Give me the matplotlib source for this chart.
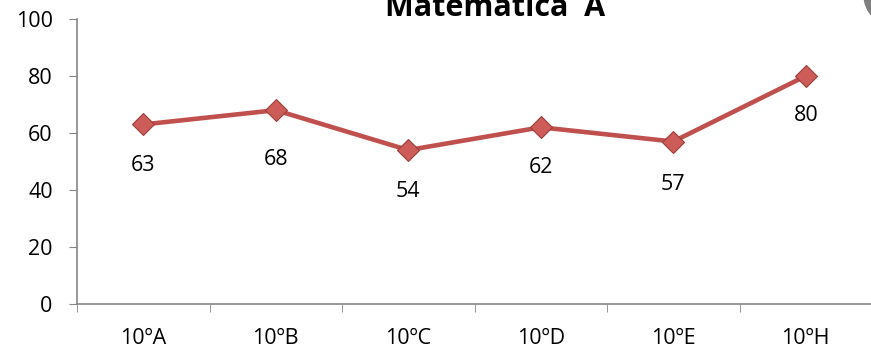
import matplotlib
matplotlib.use("Agg")
import matplotlib.pyplot as plt
from matplotlib.patches import Circle

# Chart data
classes = ["10ºA", "10ºB", "10ºC", "10ºD", "10ºE", "10ºH"]
scores = [63, 68, 54, 62, 57, 80]
y_ticks = [0, 20, 40, 60, 80, 100]

plt.rcParams["font.family"] = ["Open Sans", "DejaVu Sans"]

fig = plt.figure(figsize=(8.71, 3.52), dpi=100)
ax = fig.add_axes([77 / 871, (352 - 304) / 352, 795 / 871, 285 / 352])

x = list(range(len(classes)))
ax.plot(x, scores, color="#C0504D", linewidth=3.3, marker="D", markersize=10.8,
        markerfacecolor="#CD5B57", markeredgecolor="#9A3F3C", markeredgewidth=0.8)

# Value labels below each point (offsets in points, as placed in the original)
label_drop = [29.5, 35.5, 30, 29, 31, 28.5]
for xi, v, d in zip(x, scores, label_drop):
    ax.annotate(f"{v:.0f}", (xi, v), textcoords="offset points", xytext=(0, -d),
                ha="center", va="center", fontsize=15.5, color="black")

ax.set_xlim(-0.5, len(classes) - 0.5)
ax.set_ylim(0, 100)
ax.set_yticks(y_ticks)
ax.set_xticks(x)
ax.set_xticklabels(classes)
ax.set_xticks([i - 0.5 for i in range(len(classes) + 1)], minor=True)
ax.tick_params(axis="x", which="major", length=0, pad=17, labelsize=15.5)
ax.tick_params(axis="x", which="minor", length=5.5, color="#868686", direction="out")
ax.tick_params(axis="y", length=5.5, color="#868686", labelsize=15.5, pad=12)

for side in ["top", "right"]:
    ax.spines[side].set_visible(False)
for side in ["left", "bottom"]:
    ax.spines[side].set_color("#868686")
    ax.spines[side].set_linewidth(1.2)

fig.text(495 / 871, 1 - 16 / 352, "Matematica  A", ha="center", va="baseline",
         fontsize=22, fontweight="bold")

# grey corner decoration (display coords, origin bottom-left)
fig.patches.append(Circle((895, 357), 31, transform=None, color="#7F7F7F",
                          zorder=0))

plt.savefig("out.png", dpi=100)
